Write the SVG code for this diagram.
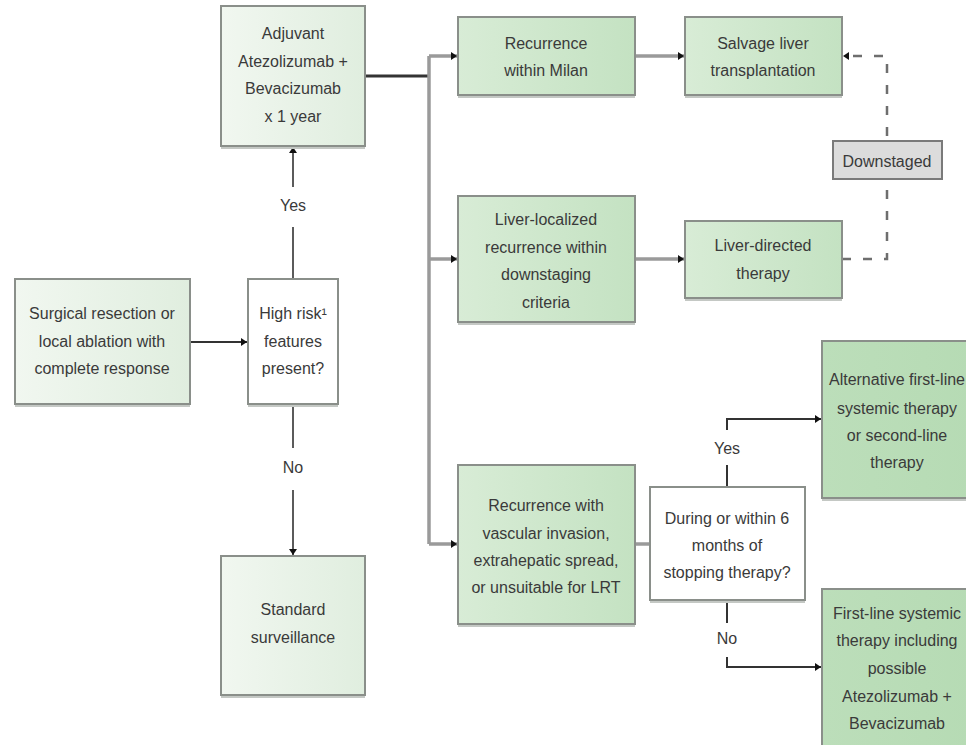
<svg xmlns="http://www.w3.org/2000/svg" width="966" height="745" viewBox="0 0 966 745">
<style>
  text { font-family: "Liberation Sans", Arial, sans-serif; font-size: 16px; fill: #3a3a3a; text-anchor: middle; }
  .box { stroke: #8a8f8a; stroke-width: 2; }
  .shadow { fill: #c4c8c4; }
  .pale { fill: url(#gPale); }
  .mid { fill: url(#gMid); }
  .deep { fill: url(#gDeep); }
  .white { fill: #ffffff; }
  .dark { fill: none; stroke: #333333; stroke-width: 2; }
  .thin { fill: none; stroke: #333333; stroke-width: 1.6; }
  .gray { fill: none; stroke: #9a9a9a; stroke-width: 3.5; }
  .dash { fill: none; stroke: #6e6e6e; stroke-width: 2.5; stroke-dasharray: 9 12; }
  .tag { fill: #dcdcdc; stroke: #7a7a7a; stroke-width: 2; }
</style>
<defs>
  <linearGradient id="gPale" x1="0" y1="0" x2="1" y2="0">
    <stop offset="0" stop-color="#f1f7f0"/>
    <stop offset="1" stop-color="#e0eedf"/>
  </linearGradient>
  <linearGradient id="gMid" x1="0" y1="0" x2="1" y2="0">
    <stop offset="0" stop-color="#d8ecd6"/>
    <stop offset="1" stop-color="#c4e2c2"/>
  </linearGradient>
  <linearGradient id="gDeep" x1="0" y1="0" x2="1" y2="0">
    <stop offset="0" stop-color="#bcdeba"/>
    <stop offset="1" stop-color="#b6dbb4"/>
  </linearGradient>
  <marker id="arr" markerUnits="userSpaceOnUse" markerWidth="8" markerHeight="10" refX="6" refY="5" orient="auto">
    <path d="M0,1 L6,5 L0,9 Z" fill="#111111"/>
  </marker>
</defs>

<g id="connectors">
  <path class="dark" d="M190,342 H247" marker-end="url(#arr)"/>
  <path class="thin" d="M293,279 V227 M293,187 V147" marker-end="url(#arr)"/>
  <path class="thin" d="M293,404 V448 M293,490 V555" marker-end="url(#arr)"/>
  <path class="dark" d="M365,76 H429" style="stroke-width:3"/>
  <path class="gray" d="M429,56 V544"/>
  <path class="gray" d="M429,56 H457" marker-end="url(#arr)"/>
  <path class="gray" d="M429,259 H457" marker-end="url(#arr)"/>
  <path class="gray" d="M429,544 H457" marker-end="url(#arr)"/>
  <path class="gray" d="M635,56 H684" marker-end="url(#arr)"/>
  <path class="gray" d="M635,259 H684" marker-end="url(#arr)"/>
  <path class="gray" d="M635,544 H650"/>
  <path class="dash" d="M842,259 H887 V56 H843" marker-end="url(#arr)"/>
  <path class="dark" d="M727,487 V465 M727,430 V419 H821" marker-end="url(#arr)"/>
  <path class="dark" d="M727,600 V623 M727,657 V667 H821" marker-end="url(#arr)"/>
</g>

<g id="label-yes-left"><text x="293" y="211">Yes</text></g>
<g id="label-no-left"><text x="293" y="473">No</text></g>
<g id="label-yes-right"><text x="727" y="454">Yes</text></g>
<g id="label-no-right"><text x="727" y="644">No</text></g>

<g id="downstaged">
  <rect class="tag" x="833" y="141" width="109" height="38"/>
  <text x="887" y="167">Downstaged</text>
</g>

<g id="surgical">
  <rect class="shadow" x="15" y="281" width="175" height="126"/>
  <rect class="box pale" x="15" y="279" width="175" height="125"/>
  <text x="102" y="319">Surgical resection or</text>
  <text x="102" y="347">local ablation with</text>
  <text x="102" y="374">complete response</text>
</g>

<g id="highrisk">
  <rect class="shadow" x="248" y="281" width="90" height="126"/>
  <rect class="box white" x="248" y="279" width="90" height="125"/>
  <text x="293" y="319">High risk¹</text>
  <text x="293" y="347">features</text>
  <text x="293" y="374">present?</text>
</g>

<g id="adjuvant">
  <rect class="shadow" x="221" y="8" width="144" height="141"/>
  <rect class="box pale" x="221" y="6" width="144" height="140"/>
  <text x="293" y="39">Adjuvant</text>
  <text x="293" y="67">Atezolizumab +</text>
  <text x="293" y="94">Bevacizumab</text>
  <text x="293" y="122">x 1 year</text>
</g>

<g id="standard">
  <rect class="shadow" x="221" y="558" width="144" height="140"/>
  <rect class="box pale" x="221" y="556" width="144" height="139"/>
  <text x="293" y="615">Standard</text>
  <text x="293" y="643">surveillance</text>
</g>

<g id="milan">
  <rect class="shadow" x="458" y="19" width="177" height="79"/>
  <rect class="box mid" x="458" y="17" width="177" height="78"/>
  <text x="546" y="49">Recurrence</text>
  <text x="546" y="76">within Milan</text>
</g>

<g id="salvage">
  <rect class="shadow" x="685" y="19" width="157" height="79"/>
  <rect class="box mid" x="685" y="17" width="157" height="78"/>
  <text x="763" y="49">Salvage liver</text>
  <text x="763" y="76">transplantation</text>
</g>

<g id="liverlocalized">
  <rect class="shadow" x="458" y="198" width="177" height="127"/>
  <rect class="box mid" x="458" y="196" width="177" height="126"/>
  <text x="546" y="225">Liver-localized</text>
  <text x="546" y="253">recurrence within</text>
  <text x="546" y="280">downstaging</text>
  <text x="546" y="308">criteria</text>
</g>

<g id="liverdirected">
  <rect class="shadow" x="685" y="223" width="157" height="78"/>
  <rect class="box mid" x="685" y="221" width="157" height="77"/>
  <text x="763" y="251">Liver-directed</text>
  <text x="763" y="279">therapy</text>
</g>

<g id="vascular">
  <rect class="shadow" x="458" y="467" width="177" height="160"/>
  <rect class="box mid" x="458" y="465" width="177" height="159"/>
  <text x="546" y="511">Recurrence with</text>
  <text x="546" y="539">vascular invasion,</text>
  <text x="546" y="566">extrahepatic spread,</text>
  <text x="546" y="593">or unsuitable for LRT</text>
</g>

<g id="decision">
  <rect class="shadow" x="650" y="489" width="155" height="114"/>
  <rect class="box white" x="650" y="487" width="155" height="113"/>
  <text x="727" y="524">During or within 6</text>
  <text x="727" y="551">months of</text>
  <text x="727" y="578">stopping therapy?</text>
</g>

<g id="alternative">
  <rect class="shadow" x="822" y="343" width="152" height="158"/>
  <rect class="box deep" x="822" y="341" width="152" height="157"/>
  <text x="897" y="385">Alternative first-line</text>
  <text x="897" y="414">systemic therapy</text>
  <text x="897" y="441">or second-line</text>
  <text x="897" y="468">therapy</text>
</g>

<g id="firstline">
  <rect class="box deep" x="822" y="589" width="152" height="170"/>
  <text x="897" y="619">First-line systemic</text>
  <text x="897" y="646">therapy including</text>
  <text x="897" y="674">possible</text>
  <text x="897" y="702">Atezolizumab +</text>
  <text x="897" y="729">Bevacizumab</text>
</g>
</svg>
